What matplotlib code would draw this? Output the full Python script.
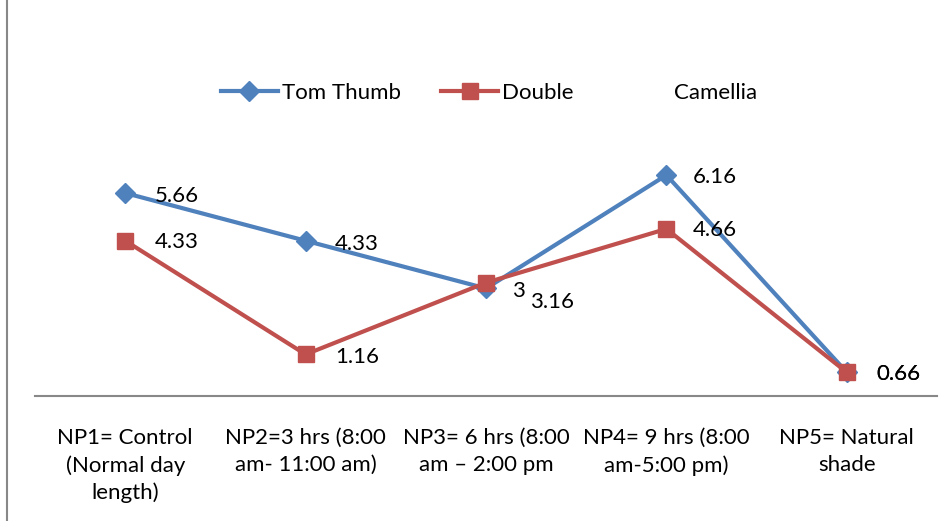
import matplotlib
matplotlib.use("Agg")
import matplotlib.pyplot as plt
from matplotlib.lines import Line2D

categories = [
    "NP1= Control\n(Normal day\nlength)",
    "NP2=3 hrs (8:00\nam- 11:00 am)",
    "NP3= 6 hrs (8:00\nam \u2013 2:00 pm",
    "NP4= 9 hrs (8:00\nam-5:00 pm)",
    "NP5= Natural\nshade",
]
tom_thumb = [5.66, 4.33, 3.0, 6.16, 0.66]
double = [4.33, 1.16, 3.16, 4.66, 0.66]
camellia = []
tom_labels = ["5.66", "4.33", "3", "6.16", "0.66"]
double_labels = ["4.33", "1.16", "3.16", "4.66", "0.66"]

plt.rcParams['font.family'] = ['Lato', 'DejaVu Sans']

fig = plt.figure(figsize=(9.51, 5.21), dpi=100)
ax = fig.add_axes([35/951, 1-396/521, (937-35)/951, (396-145)/521])

x = list(range(len(categories)))
blue = "#4F81BD"
red = "#C0504D"
l1, = ax.plot(x, tom_thumb, color=blue, lw=3, marker="D", ms=10, label="Tom Thumb", zorder=3)
l2, = ax.plot(x, double, color=red, lw=3, marker="s", ms=12, label="Double", zorder=4)
l3, = ax.plot(camellia, camellia, color="none", label="Camellia")

fs = 16
offs_t = [(21, -2), (21, -2), (19, -2), (19, -1), (21, -1)]
offs_d = [(21, -1), (21, -2), (32, -14), (19, -1), (21, -1)]
for i, (v, s) in enumerate(zip(tom_thumb, tom_labels)):
    ax.annotate(s, (x[i], v), xytext=offs_t[i], textcoords="offset points",
                ha="left", va="center", fontsize=fs, color="black", zorder=5)
for i, (v, s) in enumerate(zip(double, double_labels)):
    ax.annotate(s, (x[i], v), xytext=offs_d[i], textcoords="offset points",
                ha="left", va="center", fontsize=fs, color="black", zorder=5)

ax.set_xlim(-0.5, len(categories) - 0.5)
ax.set_ylim(0, 7)
ax.set_xticks(x)
ax.set_xticklabels(categories, fontsize=fs, linespacing=1.42, ha="center", va="top")
ax.tick_params(axis="x", length=0, pad=23)
ax.set_yticks([])
for sp in ["top", "left", "right"]:
    ax.spines[sp].set_visible(False)
ax.spines["bottom"].set_color("#888888")
ax.spines["bottom"].set_linewidth(1.5)

fig.legend(handles=[l1, l2, l3], loc="center", bbox_to_anchor=(489/951, 1-93/521),
           ncol=3, frameon=False, fontsize=fs, handlelength=2.6, handletextpad=0.15,
           columnspacing=1.8)

fig.add_artist(Line2D([7/951, 7/951], [0, 1], transform=fig.transFigure,
                      color="#888888", lw=1.5))

fig.savefig("out.png", dpi=100)
